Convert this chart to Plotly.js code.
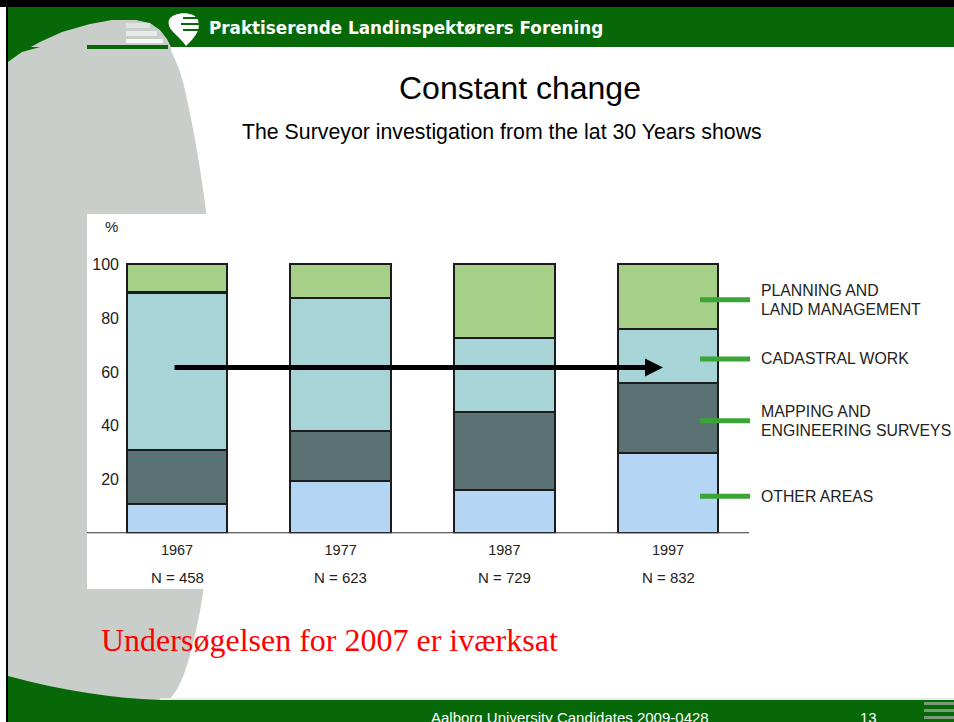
<!DOCTYPE html>
<html>
<head>
<meta charset="utf-8">
<script src="https://cdn.plot.ly/plotly-3.0.1.min.js"></script>
<style>html,body{margin:0;padding:0;background:#fff;}#chart{width:954px;height:722px;}</style>
</head>
<body>
<div id="chart"></div>
<script>
// ---- data ----
const years = ['1967', '1977', '1987', '1997'];
const nValues = [458, 623, 729, 832];
const otherAreas = [11, 19.5, 16, 30];
const mappingEngineering = [20, 18.5, 29, 26];
const cadastralWork = [58.5, 49.5, 27.5, 20];
const planningLand = [10.5, 12.5, 27.5, 24];
const seriesNames = ['OTHER AREAS', 'MAPPING AND<br>ENGINEERING SURVEYS', 'CADASTRAL WORK', 'PLANNING AND<br>LAND MANAGEMENT'];
const yTicks = [20, 40, 60, 80, 100];

// ---- layout helpers (pixel -> paper) ----
const W = 954, H = 722;
const px = x => x / W;
const py = y => 1 - y / H;
function path(str) {
  const t = str.trim().split(/[\s,]+/);
  let out = [], isX = true;
  for (const tok of t) {
    if (/^[A-Za-z]$/.test(tok)) { out.push(tok); isX = true; }
    else { const v = parseFloat(tok); out.push((isX ? px(v) : py(v)).toFixed(5)); isX = !isX; }
  }
  return out.join(' ');
}
function rect(x0, y0, x1, y1, color, layer) {
  return {type: 'rect', xref: 'paper', yref: 'paper', x0: px(x0), x1: px(x1), y0: py(y0), y1: py(y1),
          fillcolor: color, line: {width: 0}, layer: layer || 'below'};
}
function pshape(d, color, layer) {
  return {type: 'path', xref: 'paper', yref: 'paper', path: path(d), fillcolor: color, line: {width: 0}, layer: layer || 'below'};
}

const GREEN = '#066806';
const GRAY = '#c9cecb';
const colors = ['#b4d5f4', '#5b7274', '#a6d4d7', '#a6cf88'];
const seriesData = [otherAreas, mappingEngineering, cadastralWork, planningLand];

const traces = seriesData.map((vals, i) => ({
  type: 'bar', x: years, y: vals, name: seriesNames[i], width: 0.615,
  marker: {color: colors[i], line: {color: '#1c1c1c', width: 2.2}},
  hoverinfo: 'y'
}));

const shapes = [
  // top border
  rect(0, 0, W, 7, '#000'),
  // header green
  rect(8, 7, W, 47, GREEN),
  // gray swoosh (body)
  pshape('M 8 62 C 40 38 90 19 135 20 C 160 24 176 55 183 82 C 202 160 222 300 217 420 C 213 520 206 600 190 655 C 181 688 172 700 160 706 L 8 706 Z', GRAY),
  // gray swoosh part inside header
  pshape('M 8 62 L 22 52 L 40 42 L 62 32 L 90 24 L 112 20 L 135 20 L 150 23 L 160 30 L 167 39 L 171 47 L 171 60 L 8 60 Z', GRAY),
  // small green corner below header at far left
  pshape('M 8 47 L 40 47 L 22 52 L 8 62 Z', GREEN),
  // stripes by logo
  rect(126, 23, 150, 28, '#dfe3df'),
  rect(126, 31, 157, 36, '#e8ebe8'),
  rect(126, 39, 163, 43, '#f5f7f5'),
  rect(87, 45, 168, 49, GREEN),
  // logo
  pshape('M 169 20 C 172 12 194 10 198 20 C 201 30 196 36 186 46 C 180 36 166 30 169 20 Z', '#ffffff'),
  rect(183, 17, 200, 19, GREEN),
  rect(181, 23, 201, 25, GREEN),
  rect(183, 29, 200, 31, GREEN),
  // footer
  pshape('M 8 676 C 60 690 110 698 160 700 L 954 700 L 954 722 L 8 722 Z', GREEN),
  rect(160, 698, W, 700, '#e6ece6'),
  rect(924, 702, W, 705, '#7a9a7a'),
  rect(924, 709, W, 712, '#7a9a7a'),
  rect(924, 716, W, 719, '#7a9a7a'),
  // left border
  rect(6, 0, 8, H, '#000'),
  // chart image box
  rect(87, 214, W, 589, '#ffffff'),
  // baseline
  {type: 'line', xref: 'paper', yref: 'y', x0: px(87), x1: px(749), y0: 0, y1: 0, line: {color: '#333', width: 2}, layer: 'above'}
];

// legend dashes at the middle of each 1997 segment
const last = years.length - 1;
let cum = 0;
const legendY = seriesData.map(s => { const mid = cum + s[last] / 2 - 1.2; cum += s[last]; return mid; });
legendY.forEach(y => shapes.push({type: 'line', xref: 'paper', yref: 'y', x0: px(700), x1: px(750), y0: y, y1: y,
  line: {color: '#3aa535', width: 5}, layer: 'above'}));

const font = 'Liberation Sans, Arial, sans-serif';
const annotations = [
  {xref: 'paper', yref: 'paper', x: px(207), y: py(28), xanchor: 'left', yanchor: 'middle', showarrow: false,
   text: '<b>Praktiserende Landinspektørers Forening</b>', font: {family: 'DejaVu Sans, sans-serif', size: 16.8, color: '#fff'}},
  {xref: 'paper', yref: 'paper', x: px(519.5), y: py(88), xanchor: 'center', yanchor: 'middle', showarrow: false,
   text: 'Constant change', font: {family: font, size: 32, color: '#000'}},
  {xref: 'paper', yref: 'paper', x: px(501.5), y: py(132), xanchor: 'center', yanchor: 'middle', showarrow: false,
   text: 'The Surveyor investigation from the lat 30 Years shows', font: {family: font, size: 21.3, color: '#000'}},
  {xref: 'paper', yref: 'paper', x: px(111), y: py(226), xanchor: 'center', yanchor: 'middle', showarrow: false,
   text: '%', font: {family: font, size: 15, color: '#222'}},
  {xref: 'paper', yref: 'paper', x: px(99), y: py(640), xanchor: 'left', yanchor: 'middle', showarrow: false,
   text: 'Undersøgelsen for 2007 er iværksat', font: {family: 'Liberation Serif, Times New Roman, serif', size: 32, color: '#ff0000'}},
  {xref: 'paper', yref: 'paper', x: px(570), y: py(717), xanchor: 'center', yanchor: 'middle', showarrow: false,
   text: 'Aalborg University Candidates 2009-0428', font: {family: font, size: 15, color: '#fff'}},
  {xref: 'paper', yref: 'paper', x: px(868), y: py(717), xanchor: 'center', yanchor: 'middle', showarrow: false,
   text: '13', font: {family: font, size: 15, color: '#fff'}},
  // arrow
  {xref: 'paper', yref: 'y', x: px(663), y: 61.6, ax: -(663 - 173), ay: 0, axref: 'pixel', ayref: 'pixel',
   showarrow: true, arrowhead: 2, arrowwidth: 5, arrowsize: 0.72, arrowcolor: '#000', text: ''}
];
// N labels (category axis: positions by index)
years.forEach((yr, i) => annotations.push({xref: 'x', yref: 'paper', x: i, y: py(577), xanchor: 'center', yanchor: 'middle',
  showarrow: false, text: 'N = ' + nValues[i], font: {family: font, size: 15, color: '#222'}}));
// legend labels, one annotation per line for tighter spacing
seriesNames.forEach((nm, i) => {
  const lines = nm.split('<br>');
  lines.forEach((ln, j) => annotations.push({xref: 'paper', yref: 'y', x: px(759), y: legendY[i],
    yshift: -((j - (lines.length - 1) / 2) * 18.5), xanchor: 'left', yanchor: 'middle',
    showarrow: false, text: ln, font: {family: font, size: 15.8, color: '#222'}}));
});

const layout = {
  width: W, height: H,
  margin: {l: 0, r: 0, t: 0, b: 0, pad: 0},
  paper_bgcolor: '#ffffff', plot_bgcolor: 'rgba(0,0,0,0)',
  showlegend: false, barmode: 'stack', bargap: 0.4,
  xaxis: {domain: [px(123), px(766.2)], type: 'category', range: [-0.33, 3.6], showline: false, showgrid: false,
          zeroline: false, ticks: '', tickfont: {family: font, size: 14.5, color: '#222'}, ticklabelstandoff: 6, fixedrange: true},
  yaxis: {domain: [py(533.3), py(250.85)], range: [0, 105], tickvals: yTicks, showline: false, showgrid: false,
          zeroline: false, ticks: '', tickfont: {family: font, size: 16, color: '#222'}, ticklabelstandoff: 3, fixedrange: true},
  shapes: shapes,
  annotations: annotations
};

Plotly.newPlot('chart', traces, layout, {displayModeBar: false, staticPlot: true});
</script>
</body>
</html>
